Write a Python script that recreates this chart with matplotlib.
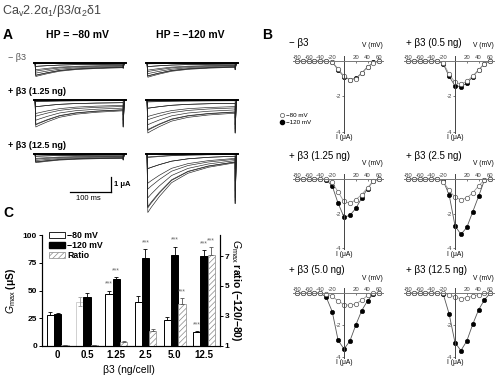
import matplotlib
matplotlib.use('Agg')
import matplotlib.pyplot as plt
from matplotlib.lines import Line2D
from matplotlib.patches import Patch

plt.rcParams['font.family'] = ['Liberation Sans', 'DejaVu Sans']
plt.rcParams['mathtext.fontset'] = 'custom'
plt.rcParams['mathtext.rm'] = 'Liberation Sans'
plt.rcParams['mathtext.it'] = 'Liberation Sans:italic'
plt.rcParams['mathtext.bf'] = 'Liberation Sans:bold'
plt.rcParams['axes.unicode_minus'] = False
plt.rcParams['hatch.linewidth'] = 0.5
plt.rcParams['hatch.color'] = '#888888'

W, H = 500, 375

# ---------------- data ----------------
# A: current traces (read roughly off the sweeps)
sweep_t = [2, 10, 30, 60, 100, 150, 215]               # ms
sweep_decay = [1.0, 0.9, 0.68, 0.4, 0.21, 0.09, 0.0]   # inactivation, peak -> end
sweep_rel_peak = [0.05, 0.25, 0.6, 0.9, 1.0, 0.92, 0.75, 0.5, 0.25, 0.06]
sweep_rel_tail = [0.02, 0.1, 0.3, 0.55, 0.75, 0.88, 0.95, 1.0, 1.0, 1.0]
trace_rows = ['− β3', '+ β3 (1.25 ng)', '+ β3 (12.5 ng)']
trace_hp = ['HP = −80 mV', 'HP = −120 mV']
peak_max = [[0.9, 0.95], [1.8, 2.2], [0.58, 3.9]]      # uA
end_frac = [[0.35, 0.3], [0.4, 0.4], [0.5, 0.15]]
tail_max = [[0.35, 0.45], [1.8, 2.2], [0.4, 3.3]]

# B: I-V relations
iv_v = [-80, -70, -60, -50, -40, -30, -20, -10, 0, 10, 20, 30, 40, 50, 60]
iv_titles = ['− β3', '+ β3 (0.5 ng)', '+ β3 (1.25 ng)',
             '+ β3 (2.5 ng)', '+ β3 (5.0 ng)', '+ β3 (12.5 ng)']
iv_hp80 = [
    [0, 0, 0, 0, 0, 0, -0.05, -0.45, -0.85, -1.05, -1.0, -0.7, -0.35, -0.1, 0],
    [0, 0, 0, 0, 0, 0, -0.1, -0.75, -1.2, -1.3, -1.15, -0.85, -0.5, -0.15, 0],
    [0, 0, 0, 0, 0, 0, -0.2, -0.75, -1.3, -1.4, -1.2, -0.9, -0.5, -0.1, 0],
    [0, 0, 0, 0, 0, 0, -0.15, -0.65, -1.05, -1.2, -1.1, -0.8, -0.4, -0.05, 0],
    [0, 0, 0, 0, 0, -0.05, -0.2, -0.5, -0.72, -0.78, -0.68, -0.45, -0.15, 0, 0],
    [0, 0, 0, 0, 0, 0, 0, -0.1, -0.25, -0.35, -0.3, -0.2, -0.1, 0, 0],
]
iv_hp120 = [
    [0, 0, 0, 0, 0, 0, -0.05, -0.5, -0.9, -1.05, -0.98, -0.68, -0.33, -0.08, 0],
    [0, 0, 0, 0, 0, 0, -0.15, -0.87, -1.4, -1.45, -1.25, -0.9, -0.5, -0.15, 0],
    [0, 0, 0, 0, 0, -0.05, -0.4, -1.4, -2.2, -2.1, -1.7, -1.1, -0.55, -0.1, 0],
    [0, 0, 0, 0, 0, 0, -0.1, -0.9, -2.7, -3.2, -2.8, -1.9, -1.0, -0.05, 0],
    [0, 0, 0, 0, 0, -0.27, -1.16, -2.95, -3.5, -3.0, -2.0, -1.1, -0.48, -0.05, 0],
    [0, 0, 0, 0, 0, 0, -0.06, -1.3, -3.1, -3.6, -3.0, -1.96, -1.05, -0.42, 0],
]

# C: Gmax bars
doses = ['0', '0.5', '1.25', '2.5', '5.0', '12.5']
gmax_80 = [28, 40, 47, 40, 23, 12.5]
gmax_80_err = [3, 4, 3, 5, 3, 0.8]
gmax_120 = [29, 44, 60, 79, 82, 81]
gmax_120_err = [1, 4, 2, 8, 7.5, 5.4]
ratio = [1.05, 1.05, 1.27, 2.0, 3.8, 7.05]
ratio_err = [0.03, 0.03, 0.06, 0.16, 0.4, 0.55]
sig_80 = [0, 0, 1, 0, 0, 1]
sig_120 = [0, 0, 1, 1, 1, 1]
sig_ratio = [0, 0, 0, 0, 1, 1]


def box(x0, y0, w, h):
    # pixel box (top-left origin) -> figure fraction
    return [x0 / W, 1 - (y0 + h) / H, w / W, h / H]


def fx(x):
    return x / W


def fy(y):
    return 1 - y / H


fig = plt.figure(figsize=(5, 3.75), dpi=100)

fig.text(fx(2), fy(11), r'Ca$_\mathrm{v}$2.2α$_\mathrm{1}$/β3/α$_\mathrm{2}$δ1',
         fontsize=9, color='#444444', va='center')

# ---------------- A ----------------
fig.text(fx(3), fy(35), 'A', fontsize=10, fontweight='bold', va='center')
for c, lab in enumerate(trace_hp):
    fig.text(fx([77, 190][c]), fy(35), lab, fontsize=7.5, fontweight='bold',
             ha='center', va='center')
row_lab_y = [57, 91, 146]
for r, lab in enumerate(trace_rows):
    fig.text(fx(8), fy(row_lab_y[r]), lab, fontsize=6.5,
             fontweight='normal' if r == 0 else 'bold',
             color='#555555' if r == 0 else 'black', va='center')

ms_px = 0.41     # px per ms
ua_px = 15.0     # px per uA
a_base = [63, 100, 154]
a_left = [35, 147]
trace_axes = {}
for r in range(3):
    for c in range(2):
        ax = fig.add_axes(box(a_left[c] - 10 * ms_px, a_base[r] - 0.4 * ua_px,
                              240 * ms_px, 4.6 * ua_px))
        ax.set_xlim(-10, 230)
        ax.set_ylim(-4.2, 0.4)
        ax.axis('off')
        ax.patch.set_alpha(0)
        for rp, rt in zip(sweep_rel_peak, sweep_rel_tail):
            pk = peak_max[r][c] * rp
            ef = end_frac[r][c]
            ys = [-pk * (ef + (1 - ef) * d) for d in sweep_decay]
            tt = [0] + sweep_t + [sweep_t[-1], sweep_t[-1] + 3]
            yy = [0] + ys + [-tail_max[r][c] * rt, 0]
            ax.plot(tt, yy, color='#222222', lw=0.45)
        ax.plot([-3, 222], [0, 0], color='black', lw=1.4)
        trace_axes[(r, c)] = ax

sb = trace_axes[(2, 0)]
sb.plot([185, 185], [-1.55, -2.55], color='black', lw=0.9, clip_on=False)
sb.plot([85, 185], [-2.55, -2.55], color='black', lw=0.9, clip_on=False)
sb.text(193, -2.05, '1 μA', fontsize=5.5, fontweight='bold', va='center')
sb.text(130, -2.75, '100 ms', fontsize=5.5, ha='center', va='top')

# ---------------- B ----------------
fig.text(fx(262), fy(35), 'B', fontsize=10, fontweight='bold', va='center')
mv_px = 0.59
b_ox = [344, 455]
b_oy = [61, 179, 293]
b_sy = [17.7, 17.3, 16.0]
for k in range(6):
    r, c = divmod(k, 2)
    ox, oy, sy = b_ox[c], b_oy[r], b_sy[r]
    ax = fig.add_axes(box(ox - 90 * mv_px, oy - 1.0 * sy, 160 * mv_px, 5.4 * sy))
    ax.set_xlim(-90, 70)
    ax.set_ylim(-4.4, 1.0)
    ax.patch.set_alpha(0)
    ax.spines['right'].set_visible(False)
    ax.spines['bottom'].set_visible(False)
    ax.spines['top'].set_position(('data', 0))
    ax.spines['left'].set_position(('data', 0))
    ax.spines['top'].set_bounds(-86, 66)
    ax.spines['left'].set_bounds(-4.05, 0.3)
    ax.spines['top'].set_color('#777777')
    ax.spines['left'].set_color('#444444')
    ax.spines['top'].set_linewidth(0.7)
    ax.spines['left'].set_linewidth(0.7)
    ax.set_xticks([-80, -60, -40, -20, 20, 40, 60])
    ax.set_yticks([-4, -2])
    ax.tick_params(axis='x', top=True, labeltop=True, bottom=False,
                   labelbottom=False, direction='in', length=1.5, pad=0.8,
                   labelsize=4.3, colors='#444444', width=0.5)
    ax.tick_params(axis='y', direction='out', length=1.5, pad=0.5,
                   labelsize=4.3, colors='#444444', width=0.5)
    ax.plot(iv_v, iv_hp120[k], color='#555555', lw=0.6, marker='o', ms=3.2,
            mfc='black', mec='black', mew=0.4)
    ax.plot(iv_v, iv_hp80[k], color='#999999', lw=0.6, marker='o', ms=3.2,
            mfc='white', mec='#555555', mew=0.5)
    ax.text(48, 0.9, 'V (mV)', fontsize=4.8, ha='center', va='center')
    ax.text(0, -4.15, 'I (μA)', fontsize=4.8, ha='center', va='top')
    fig.text(fx([289, 406][c]), fy([43, 156, 270][r]), iv_titles[k],
             fontsize=7, va='center')

iv_handles = [
    Line2D([], [], ls='none', marker='o', ms=3, mfc='white', mec='#555555', mew=0.5),
    Line2D([], [], ls='none', marker='o', ms=3, mfc='black', mec='black'),
]
fig.legend(iv_handles, ['−80 mV', '−120 mV'], loc='upper left',
           bbox_to_anchor=(fx(279), fy(113)), bbox_transform=fig.transFigure,
           fontsize=4.5, frameon=False, handlelength=0.8, handletextpad=0.3,
           labelspacing=0.15, borderpad=0, borderaxespad=0)

# ---------------- C ----------------
fig.text(fx(3), fy(213), 'C', fontsize=10, fontweight='bold', va='center')
axc = fig.add_axes(box(42, 235, 178, 111))
axr = axc.twinx()
x = list(range(len(doses)))
bw = 0.25
x80 = [i - bw for i in x]
x120 = x
xr = [i + bw for i in x]

edge80 = ['black', '#d0d0d0', 'black', 'black', 'black', 'black']
axc.bar(x80, gmax_80, bw, color='white', edgecolor=edge80, lw=0.7)
axc.bar(x120, gmax_120, bw, color='black', edgecolor='black', lw=0.7)
for i in x:
    lo = gmax_80_err[i] if i == 1 else 0
    axc.errorbar(x80[i], gmax_80[i], yerr=[[lo], [gmax_80_err[i]]], fmt='none',
                 ecolor=edge80[i] if i != 1 else '#999999', elinewidth=0.6,
                 capsize=1.5, capthick=0.6)
axc.errorbar(x120, gmax_120, yerr=[[0] * len(x), gmax_120_err], fmt='none',
             ecolor='black', elinewidth=0.6, capsize=1.5, capthick=0.6)
axr.bar(xr, [v - 1 for v in ratio], bw, bottom=1, color='white',
        edgecolor='#888888', hatch='//////', lw=0.5)
axr.errorbar(xr, ratio, yerr=[[0] * len(x), ratio_err], fmt='none',
             ecolor='#555555', elinewidth=0.6, capsize=1.5, capthick=0.6)

star_kw = dict(xytext=(0, 2), textcoords='offset points', ha='center',
               va='bottom', fontsize=5, color='#666666')
for i in x:
    if sig_80[i]:
        axc.annotate('***', (x80[i], gmax_80[i] + gmax_80_err[i]), **star_kw)
    if sig_120[i]:
        axc.annotate('***', (x120[i], gmax_120[i] + gmax_120_err[i]), **star_kw)
    if sig_ratio[i]:
        axr.annotate('***', (xr[i], ratio[i] + ratio_err[i]), **star_kw)

axc.set_xlim(-0.54, 5.55)
axc.set_ylim(0, 100)
axr.set_ylim(1, 8.4)
axc.set_yticks([0, 25, 50, 75, 100])
axr.set_yticks([1, 3, 5, 7])
axc.set_xticks(x)
axc.set_xticklabels(doses, fontweight='bold')
axc.tick_params(axis='x', length=0, labelsize=7, pad=3)
axc.tick_params(axis='y', length=2.5, width=0.7, labelsize=6, pad=1)
axr.tick_params(axis='y', length=2.5, width=0.7, labelsize=6, pad=1)
for t in axc.get_yticklabels() + axr.get_yticklabels():
    t.set_fontweight('bold')
for a in (axc, axr):
    a.spines['top'].set_visible(False)
    for s in ('left', 'right', 'bottom'):
        a.spines[s].set_linewidth(0.8)

axc.set_ylabel(r'$G_\mathrm{max}$ (μS)', fontsize=7.5, fontweight='bold')
axc.yaxis.set_label_coords(-0.135, 0.5)
axr.set_ylabel(r'$G_\mathrm{max}$ ratio (−120/−80)', fontsize=7.5,
               fontweight='bold', rotation=270, va='center')
axr.yaxis.set_label_coords(1.09, 0.5)
axc.set_xlabel('β3 (ng/cell)', fontsize=7.5)
axc.xaxis.set_label_coords(0.49, -0.17)

leg_handles = [
    Patch(facecolor='white', edgecolor='black', lw=0.6),
    Patch(facecolor='black', edgecolor='black'),
    Patch(facecolor='white', edgecolor='#888888', hatch='//////', lw=0.5),
]
fig.legend(leg_handles, ['−80 mV', '−120 mV', 'Ratio'], loc='upper left',
           bbox_to_anchor=(fx(49), fy(231)), bbox_transform=fig.transFigure,
           frameon=False, handlelength=1.8, handleheight=0.6,
           handletextpad=0.3, labelspacing=0.12, borderpad=0, borderaxespad=0,
           prop={'weight': 'bold', 'size': 6.3})

fig.savefig('out.png', dpi=100)
